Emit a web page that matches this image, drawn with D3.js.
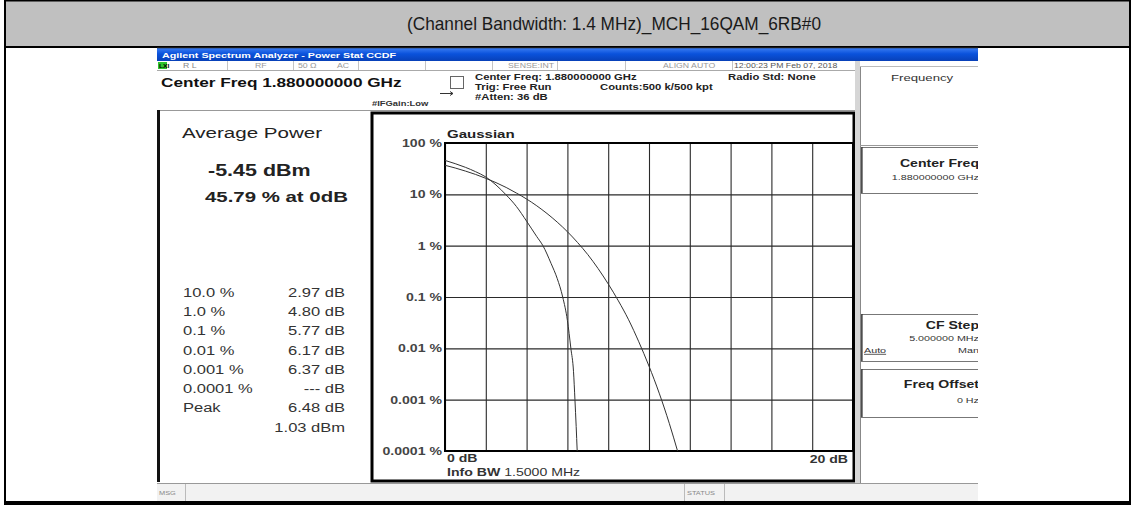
<!DOCTYPE html>
<html>
<head>
<meta charset="utf-8">
<script src="https://cdn.jsdelivr.net/npm/d3@7"></script>
<style>
    body { margin: 0; background: #fff; }
    svg { display: block; font-family: 'Liberation Sans', Arial, sans-serif; }
</style>
</head>
<body>
<div id="chart"></div>
<script>
// CCDF values (x: dB above average, y: probability %)
const measuredDb = [0, 0.5, 1.0, 1.5, 2.0, 2.5, 2.97, 3.5, 4.0, 4.5, 4.8, 5.2, 5.5, 5.77, 6.0, 6.17, 6.3, 6.37, 6.43, 6.48];
const measuredPct = [45.79, 39.6, 33.6, 27.6, 21.8, 15.2, 10, 5.8, 3.0, 1.5, 1.0, 0.45, 0.23, 0.1, 0.035, 0.01, 0.0035, 0.001, 0.0003, 0.0001];

const gaussDb = [0, 0.5, 1, 1.5, 2, 2.5, 3, 3.5, 4, 4.5, 5, 5.5, 6, 6.5, 7, 7.5, 8, 8.5, 9, 9.5, 10, 10.5, 11, 11.4];
const gaussPct = [36.8, 32.6, 28.4, 24.4, 20.5, 16.9, 13.6, 10.6, 8.1, 5.97, 4.23, 2.88, 1.87, 1.15, 0.67, 0.36, 0.18, 0.084, 0.036, 0.0134, 0.0045, 0.00134, 0.00034, 0.0001];

const yTicks = [100, 10, 1, 0.1, 0.01, 0.001, 0.0001];
const yTickLabels = ['100 %', '10 %', '1 %', '0.1 %', '0.01 %', '0.001 %', '0.0001 %'];

const statLabels = ['10.0 %', '1.0 %', '0.1 %', '0.01 %', '0.001 %', '0.0001 %', 'Peak', ''];
const statValues = ['2.97 dB', '4.80 dB', '5.77 dB', '6.17 dB', '6.37 dB', '--- dB', '6.48 dB', '1.03 dBm'];

const W = 1134, H = 505;
const SX = 1.343; // the screen shot is stretched horizontally

const svg = d3.select('#chart').append('svg')
    .attr('width', W)
    .attr('height', H);

function txt(parent, x, y, s, size, o = {}) {
    return parent.append('text')
        .attr('transform', `translate(${x},${y}) scale(${o.sx || SX},1)`)
        .attr('font-size', size)
        .attr('font-weight', o.bold ? 'bold' : 'normal')
        .attr('fill', o.fill || '#222')
        .attr('text-anchor', o.anchor || 'start')
        .text(s);
}

// ---- outer table ----
svg.append('rect').attr('x', 5).attr('y', 1).attr('width', 1125).attr('height', 45).attr('fill', '#c0c0c0');
svg.append('text')
    .attr('x', 614).attr('y', 30)
    .attr('text-anchor', 'middle')
    .attr('font-size', 19)
    .attr('fill', '#1a1a1a')
    .attr('textLength', 414)
    .attr('lengthAdjust', 'spacingAndGlyphs')
    .text('(Channel Bandwidth: 1.4 MHz)_MCH_16QAM_6RB#0');

const border = svg.append('g').attr('fill', '#000');
border.append('rect').attr('x', 4).attr('y', 0).attr('width', 1127).attr('height', 1.5);
border.append('rect').attr('x', 4).attr('y', 46).attr('width', 1127).attr('height', 2);
border.append('rect').attr('x', 4).attr('y', 0).attr('width', 2).attr('height', H);
border.append('rect').attr('x', 1129).attr('y', 0).attr('width', 2).attr('height', H);
border.append('rect').attr('x', 4).attr('y', 501).attr('width', 1127).attr('height', 4);

// ---- analyzer screen ----
const defs = svg.append('defs');
defs.append('clipPath').attr('id', 'screenClip')
    .append('rect').attr('x', 157).attr('y', 48).attr('width', 821).attr('height', 453);
const grad = defs.append('linearGradient').attr('id', 'titleBar').attr('x1', 0).attr('y1', 0).attr('x2', 0).attr('y2', 1);
grad.append('stop').attr('offset', '0%').attr('stop-color', '#3a7cf2');
grad.append('stop').attr('offset', '45%').attr('stop-color', '#0a52dc');
grad.append('stop').attr('offset', '100%').attr('stop-color', '#0840b8');

const scr = svg.append('g').attr('clip-path', 'url(#screenClip)');
scr.append('rect').attr('x', 157).attr('y', 48).attr('width', 821).attr('height', 453).attr('fill', '#fff');
scr.append('rect').attr('x', 157).attr('y', 48).attr('width', 821).attr('height', 13).attr('fill', 'url(#titleBar)');
txt(scr, 162, 58, 'Agilent Spectrum Analyzer - Power Stat CCDF', 8, { bold: true, fill: '#fff' });

// status row
scr.append('line').attr('x1', 157).attr('x2', 857).attr('y1', 70.5).attr('y2', 70.5).attr('stroke', '#aaa');
[227, 293, 358, 425, 492, 557, 625, 732, 857].forEach(x => {
    scr.append('line').attr('x1', x + 0.5).attr('x2', x + 0.5).attr('y1', 61).attr('y2', 70).attr('stroke', '#c4c4c4');
});
scr.append('rect').attr('x', 158).attr('y', 62).attr('width', 9).attr('height', 7).attr('fill', '#2fc42f');
txt(scr, 159, 68, 'LXI', 5, { bold: true, fill: '#000' });
txt(scr, 183, 68, 'R L', 6.5, { fill: '#888' });
txt(scr, 255, 68, 'RF', 6.5, { fill: '#999' });
txt(scr, 298, 68, '50 Ω', 6.5, { fill: '#999' });
txt(scr, 337, 68, 'AC', 6.5, { fill: '#999' });
txt(scr, 508, 68, 'SENSE:INT', 6.5, { fill: '#999' });
txt(scr, 663, 68, 'ALIGN AUTO', 6.5, { fill: '#999' });
txt(scr, 734, 68, '12:00:23 PM Feb 07, 2018', 6.5, { fill: '#555' });

// measurement header
txt(scr, 161, 87, 'Center Freq 1.880000000 GHz', 12.8, { bold: true, fill: '#111' });
scr.append('rect').attr('x', 450.5).attr('y', 76.5).attr('width', 13).attr('height', 12).attr('fill', '#fff').attr('stroke', '#666');
scr.append('path').attr('d', 'M440,93.5 H453 M450,91.5 L453,93.5 L450,95.5').attr('stroke', '#333').attr('fill', 'none');
txt(scr, 372, 106, '#IFGain:Low', 7, { bold: true, fill: '#333' });
txt(scr, 475, 80, 'Center Freq: 1.880000000 GHz', 8.4, { bold: true, fill: '#222' });
txt(scr, 475, 90, 'Trig: Free Run', 8.4, { bold: true, fill: '#222' });
txt(scr, 475, 100, '#Atten: 36 dB', 8.4, { bold: true, fill: '#222' });
txt(scr, 600, 90, 'Counts:500 k/500 kpt', 8.4, { bold: true, fill: '#222' });
txt(scr, 728, 80, 'Radio Std: None', 8.4, { bold: true, fill: '#222' });
scr.append('line').attr('x1', 157).attr('x2', 857).attr('y1', 110.5).attr('y2', 110.5).attr('stroke', '#999');

// left result panel
scr.append('rect').attr('x', 157).attr('y', 110).attr('width', 3).attr('height', 372).attr('fill', '#111');
txt(scr, 182, 137.5, 'Average Power', 15.3, { fill: '#222' });
txt(scr, 208, 176, '-5.45 dBm', 16, { bold: true, fill: '#222' });
txt(scr, 205, 202, '45.79 % at 0dB', 15.2, { bold: true, fill: '#222' });

const statRowY = d3.scaleLinear().domain([0, 7]).range([296.7, 431.7]);
const stats = scr.append('g');
statLabels.forEach((s, i) => {
    txt(stats, 183, statRowY(i), s, 12.3, { fill: '#333' });
    txt(stats, 345, statRowY(i), statValues[i], 12.3, { fill: '#333', anchor: 'end' });
});

// graph window
scr.append('rect').attr('x', 372).attr('y', 113).attr('width', 482).attr('height', 368)
    .attr('fill', '#fff').attr('stroke', '#000').attr('stroke-width', 3);

const plot = { left: 445, right: 853, top: 143, bottom: 451 };
const x = d3.scaleLinear().domain([0, 20]).range([plot.left, plot.right]);
const y = d3.scaleLog().domain([0.0001, 100]).range([plot.bottom, plot.top]);

const grid = scr.append('g');
grid.append('g')
    .attr('transform', `translate(0,${plot.bottom})`)
    .call(d3.axisBottom(x).ticks(10).tickSize(-(plot.bottom - plot.top)).tickFormat(''))
    .call(g => g.select('.domain').remove())
    .call(g => g.selectAll('line').attr('stroke', '#2a2a2a').attr('stroke-width', 1.1));
grid.append('g')
    .attr('transform', `translate(${plot.left},0)`)
    .call(d3.axisLeft(y).tickValues(yTicks).tickSize(-(plot.right - plot.left)).tickFormat(''))
    .call(g => g.select('.domain').remove())
    .call(g => g.selectAll('line').attr('stroke', '#2a2a2a').attr('stroke-width', 1.1));
grid.append('rect')
    .attr('x', plot.left).attr('y', plot.top)
    .attr('width', plot.right - plot.left).attr('height', plot.bottom - plot.top)
    .attr('fill', 'none').attr('stroke', '#000').attr('stroke-width', 2);

yTicks.forEach((v, i) => {
    txt(scr, 442, y(v) + 4, yTickLabels[i], 10.5, { bold: true, fill: '#444', anchor: 'end' });
});

const line = d3.line()
    .x(d => x(d[0]))
    .y(d => y(d[1]))
    .curve(d3.curveMonotoneX);

scr.append('path')
    .datum(d3.zip(gaussDb, gaussPct))
    .attr('d', line)
    .attr('fill', 'none').attr('stroke', '#333').attr('stroke-width', 1);
scr.append('path')
    .datum(d3.zip(measuredDb, measuredPct))
    .attr('d', line)
    .attr('fill', 'none').attr('stroke', '#333').attr('stroke-width', 1);

txt(scr, 447, 138, 'Gaussian', 11.2, { bold: true, fill: '#222' });
txt(scr, 447, 462, '0 dB', 10.5, { bold: true, fill: '#333' });
txt(scr, 848, 463, '20 dB', 10.5, { bold: true, fill: '#333', anchor: 'end' });
const info = txt(scr, 447, 476, '', 10.5, { fill: '#333' });
info.append('tspan').attr('font-weight', 'bold').text('Info BW ');
info.append('tspan').text('1.5000 MHz');

// softkey panel
scr.append('rect').attr('x', 855).attr('y', 61).attr('width', 5).attr('height', 422).attr('fill', '#d6d6d6');
scr.append('line').attr('x1', 860.5).attr('x2', 860.5).attr('y1', 66).attr('y2', 483).attr('stroke', '#888');
scr.append('line').attr('x1', 860).attr('x2', 978).attr('y1', 66.5).attr('y2', 66.5).attr('stroke', '#bbb');
txt(scr, 891, 81, 'Frequency', 9.8, { fill: '#333' });
scr.append('line').attr('x1', 860).attr('x2', 978).attr('y1', 145.5).attr('y2', 145.5).attr('stroke', '#999');

const keys = scr.append('g');
[[147, 193], [314, 361], [369, 417]].forEach(([t, b]) => {
    keys.append('rect').attr('x', 861.5).attr('y', t + 0.5).attr('width', 125).attr('height', b - t)
        .attr('fill', '#fff').attr('stroke', '#777');
    keys.append('line').attr('x1', 862).attr('x2', 862).attr('y1', t).attr('y2', b)
        .attr('stroke', '#333').attr('stroke-width', 1.2);
});
txt(keys, 979, 167, 'Center Freq', 10.5, { bold: true, fill: '#222', anchor: 'end' });
txt(keys, 979, 180, '1.880000000 GHz', 8, { fill: '#333', anchor: 'end' });
txt(keys, 979, 329, 'CF Step', 10.5, { bold: true, fill: '#222', anchor: 'end' });
txt(keys, 979, 340.5, '5.000000 MHz', 8, { fill: '#333', anchor: 'end' });
txt(keys, 864, 353, 'Auto', 8, { fill: '#333' }).attr('text-decoration', 'underline');
txt(keys, 979, 353, 'Man', 8, { fill: '#333', anchor: 'end' });
txt(keys, 979, 388, 'Freq Offset', 10.5, { bold: true, fill: '#222', anchor: 'end' });
txt(keys, 979, 403, '0 Hz', 8, { fill: '#333', anchor: 'end' });

// bottom status bar
scr.append('rect').attr('x', 157).attr('y', 483).attr('width', 821).attr('height', 18).attr('fill', '#f2f2f2');
scr.append('line').attr('x1', 157).attr('x2', 978).attr('y1', 483.5).attr('y2', 483.5).attr('stroke', '#999');
[185, 684, 724].forEach(xx => {
    scr.append('line').attr('x1', xx + 0.5).attr('x2', xx + 0.5).attr('y1', 484).attr('y2', 501).attr('stroke', '#bbb');
});
txt(scr, 159, 495, 'MSG', 5.5, { fill: '#888' });
txt(scr, 687, 495, 'STATUS', 5.5, { fill: '#888' });

// thin dark outline around the screenshot
svg.append('rect').attr('x', 157).attr('y', 47.5).attr('width', 821).attr('height', 0.8).attr('fill', '#333');
</script>
</body>
</html>
